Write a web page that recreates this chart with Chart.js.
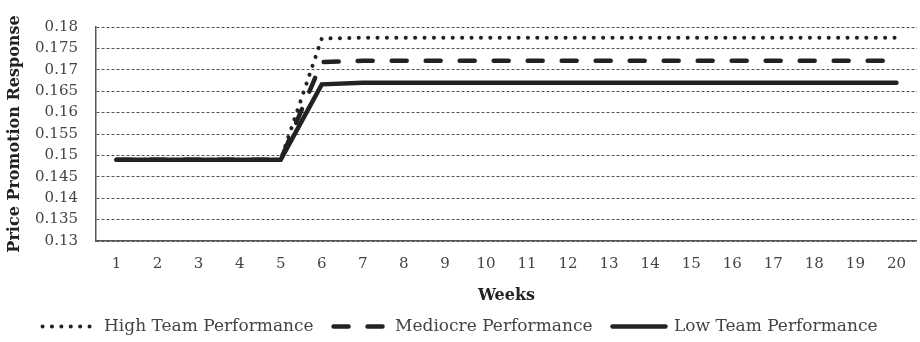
<!DOCTYPE html>
<html lang="en">

<head>
    <meta charset="UTF-8">
    <title>Price Promotion Response</title>
    <script src="https://cdn.jsdelivr.net/npm/chart.js"></script>
    <style>
        html, body { margin: 0; padding: 0; background: #fff; }
        .grafico { width: 920px; height: 342px; }
    </style>
</head>

<body>
    <div class="grafico">
        <canvas id="myChart" width="920" height="342"></canvas>
    </div>
</body>

</html>
<script>
    // dados
    const semanas = [1, 2, 3, 4, 5, 6, 7, 8, 9, 10, 11, 12, 13, 14, 15, 16, 17, 18, 19, 20]
    const altaPerformance = [0.149, 0.149, 0.149, 0.149, 0.149, 0.1773, 0.1775, 0.1775, 0.1775, 0.1775,
        0.1775, 0.1775, 0.1775, 0.1775, 0.1775, 0.1775, 0.1775, 0.1775, 0.1775, 0.1775]
    const mediocrePerformance = [0.149, 0.149, 0.149, 0.149, 0.149, 0.1718, 0.1721, 0.1721, 0.1721, 0.1721,
        0.1721, 0.1721, 0.1721, 0.1721, 0.1721, 0.1721, 0.1721, 0.1721, 0.1721, 0.1721]
    const baixaPerformance = [0.149, 0.149, 0.149, 0.149, 0.149, 0.1666, 0.167, 0.167, 0.167, 0.167,
        0.167, 0.167, 0.167, 0.167, 0.167, 0.167, 0.167, 0.167, 0.167, 0.167]
    const nomesSeries = ['High Team Performance', 'Mediocre Performance', 'Low Team Performance']
    const yMin = 0.13
    const yMax = 0.18
    const yPasso = 0.005

    const fonteSerif = "'DejaVu Serif', 'Liberation Serif', serif"
    const corLinha = '#222'

    let dados = {
        labels: semanas,
        datasets: [{
            label: nomesSeries[0],
            data: altaPerformance,
            borderColor: corLinha,
            backgroundColor: corLinha,
            borderWidth: 4,
            borderDash: [0.1, 9.3],
            borderCapStyle: 'round',
            pointRadius: 0,
            tension: 0
        },
        {
            label: nomesSeries[1],
            data: mediocrePerformance,
            borderColor: corLinha,
            backgroundColor: corLinha,
            borderWidth: 4.5,
            borderDash: [15, 19],
            borderCapStyle: 'round',
            pointRadius: 0,
            tension: 0
        },
        {
            label: nomesSeries[2],
            data: baixaPerformance,
            borderColor: corLinha,
            backgroundColor: corLinha,
            borderWidth: 4.5,
            borderCapStyle: 'round',
            pointRadius: 0,
            tension: 0
        }]
    }

    // a legenda com usePointStyle pega o estilo do ponto, entao copio o tracejado da linha
    function gerarLegenda(chart) {
        const itens = Chart.defaults.plugins.legend.labels.generateLabels(chart)
        itens.forEach(function (item) {
            const ds = chart.data.datasets[item.datasetIndex]
            item.lineDash = ds.borderDash || []
            item.lineWidth = ds.borderWidth
            item.lineCap = ds.borderCapStyle
            item.strokeStyle = ds.borderColor
            item.pointStyle = 'line'
        })
        return itens
    }

    const config = {
        type: 'line',
        data: dados,
        options: {
            responsive: false,
            animation: false,
            layout: { padding: { top: 12, left: 0, right: 0, bottom: -3 } },
            plugins: {
                tooltip: { enabled: false },
                legend: {
                    position: 'bottom',
                    labels: {
                        usePointStyle: true,
                        pointStyle: 'line',
                        pointStyleWidth: 53,
                        padding: 20,
                        color: '#444',
                        font: { family: fonteSerif, size: 17 },
                        generateLabels: gerarLegenda
                    }
                }
            },
            scales: {
                x: {
                    offset: true,
                    grid: { display: false, drawTicks: false, offset: true },
                    border: { display: true, color: '#555', width: 1.5 },
                    ticks: {
                        color: '#444',
                        padding: 14,
                        font: { family: fonteSerif, size: 15 }
                    },
                    title: {
                        display: true,
                        text: 'Weeks',
                        color: '#222',
                        padding: { top: 0, bottom: -7 },
                        font: { family: fonteSerif, size: 16, weight: 'bold' }
                    },
                    afterFit: function (escala) { escala.height = 57 }
                },
                y: {
                    min: yMin,
                    max: yMax,
                    grid: { color: '#555', lineWidth: 1, drawTicks: false },
                    border: { display: true, color: '#555', width: 1.5, dash: [3, 2] },
                    ticks: {
                        stepSize: yPasso,
                        color: '#444',
                        padding: 18,
                        font: { family: fonteSerif, size: 15 },
                        callback: function (valor) { return String(+valor.toFixed(3)) }
                    },
                    title: {
                        display: true,
                        text: 'Price Promotion Response',
                        color: '#222',
                        padding: { top: 5, bottom: 0 },
                        font: { family: fonteSerif, size: 16, weight: 'bold' }
                    },
                    afterFit: function (escala) { escala.width = 96 }
                }
            }
        }
    }

    let myChart = new Chart(document.getElementById('myChart'), config)
</script>
